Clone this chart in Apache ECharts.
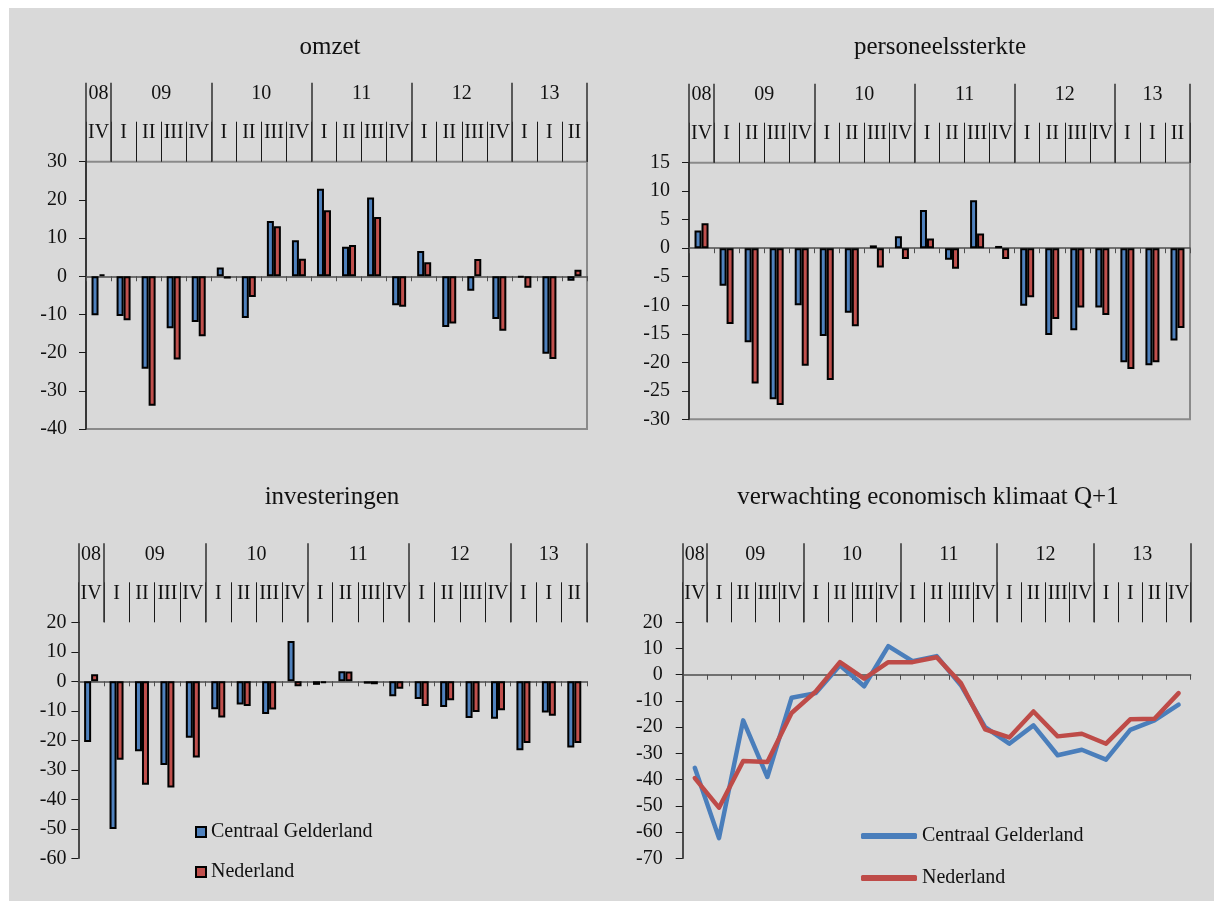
<!DOCTYPE html>
<html>
<head>
<meta charset="utf-8">
<script src="https://cdn.jsdelivr.net/npm/echarts@6/dist/echarts.min.js"></script>
<style>
  html, body { margin: 0; padding: 0; background: #ffffff; }
  #chart { position: absolute; left: 9px; top: 8px; width: 1205px; height: 893px; background: #d9d9d9; }
</style>
</head>
<body>
<div id="chart"></div>
<script>
// ---- data ----
const seriesNames = ['Centraal Gelderland', 'Nederland'];
const titles = ['omzet', 'personeelssterkte', 'investeringen', 'verwachting economisch klimaat Q+1'];

const quartersBars = ['IV','I','II','III','IV','I','II','III','IV','I','II','III','IV','I','II','III','IV','I','I','II'];
const quartersLine = ['IV','I','II','III','IV','I','II','III','IV','I','II','III','IV','I','II','III','IV','I','I','II','IV'];
const years = ['08','09','10','11','12','13'];
const yearSpansBars = [1,4,4,4,4,3];
const yearSpansLine = [1,4,4,4,4,4];

const omzetCG = [-10.2,-10.4,-24.2,-13.6,-12.0,2.3,-10.9,14.5,9.4,22.9,7.7,20.6,-7.6,6.6,-13.3,-3.8,-11.2,-0.3,-20.3,-1.2];
const omzetNL = [0.5,-11.5,-33.9,-21.8,-15.7,-0.6,-5.4,13.1,4.6,17.3,8.2,15.5,-8.0,3.7,-12.4,4.5,-14.3,-3.0,-21.7,1.7];

const persCG = [3.1,-6.6,-16.5,-26.5,-10.0,-15.4,-11.3,0.5,2.1,6.7,-2.0,8.4,0.4,-10.1,-15.2,-14.4,-10.4,-20.0,-20.5,-16.2];
const persNL = [4.4,-13.3,-23.7,-27.5,-20.6,-23.1,-13.7,-3.4,-1.9,1.7,-3.6,2.6,-1.9,-8.6,-12.4,-10.4,-11.7,-21.2,-20.0,-14.0];

const invCG = [-20.6,-50.1,-23.7,-28.4,-19.1,-9.5,-7.9,-11.1,13.7,-1.2,3.4,-0.8,-5.1,-6.0,-8.7,-12.4,-12.7,-23.4,-10.6,-22.4];
const invNL = [2.4,-26.6,-35.1,-36.0,-25.8,-12.3,-8.4,-9.6,-1.7,-0.6,3.3,-1.0,-2.5,-8.4,-6.4,-10.4,-9.8,-20.9,-11.7,-20.9];

const klimCG = [-35.5,-62.3,-17.4,-39.0,-8.8,-7.0,3.6,-4.4,10.9,5.2,7.1,-4.0,-20.0,-26.3,-19.3,-30.7,-28.6,-32.4,-21.0,-17.4,-11.4];
const klimNL = [-39.4,-50.7,-32.9,-33.3,-14.6,-6.4,4.8,-1.5,4.8,4.8,6.7,-3.2,-20.8,-23.9,-14.0,-23.5,-22.5,-26.3,-17.0,-16.8,-7.0];

const yRanges = [[-40,30,10],[-30,15,5],[-60,20,10],[-70,20,10]];

// ---- styles ----
const FONT = 'Liberation Serif';
const FS = 20;
const TFS = 25;
const TXT = '#111111';
const BLUE = '#4f81bd', RED = '#c0504d';
const LBLUE = '#4a7ebb', LRED = '#be4b48';

const grids = [
  { left: 77,    top: 153.7, width: 501,   height: 267.3 },
  { left: 680,   top: 154.7, width: 501,   height: 256.6 },
  { left: 69.4,  top: 614.3, width: 508.6, height: 236 },
  { left: 673.7, top: 614.3, width: 508,   height: 236 }
];
const yLabelMargin = [19, 19, 12, 20];
const bordered = [true, true, false, false];

// build half-step year axis: labels at group centres, ticks at group boundaries
function yearAxis(spans) {
  const total = spans.reduce((a, b) => a + b, 0) * 2;
  const data = new Array(total + 1).fill('');
  const tickIdx = new Set([0]);
  const labelIdx = new Set();
  let pos = 0;
  spans.forEach((s, i) => {
    data[pos + s] = years[i];
    labelIdx.add(pos + s);
    pos += 2 * s;
    tickIdx.add(pos);
  });
  return { data, tickIdx, labelIdx };
}

const xAxes = [], yAxes = [], series = [], titleList = [];
const panels = [
  { q: quartersBars, spans: yearSpansBars, a: omzetCG, b: omzetNL, type: 'bar' },
  { q: quartersBars, spans: yearSpansBars, a: persCG, b: persNL, type: 'bar' },
  { q: quartersBars, spans: yearSpansBars, a: invCG, b: invNL, type: 'bar' },
  { q: quartersLine, spans: yearSpansLine, a: klimCG, b: klimNL, type: 'line' }
];

panels.forEach((p, gi) => {
  const base = xAxes.length;
  // zero-line axis (series attach here)
  xAxes.push({
    gridIndex: gi, type: 'category', data: p.q, position: 'bottom',
    axisLine: { show: true, onZero: true, lineStyle: { color: '#4d4d4d', width: 1.5 } },
    axisTick: { show: true, length: 5, inside: false, lineStyle: { color: '#4d4d4d', width: 1 } },
    axisLabel: { show: false }, splitLine: { show: false }
  });
  // quarter header axis
  xAxes.push({
    gridIndex: gi, type: 'category', data: p.q, position: 'top',
    axisLine: { show: false, onZero: false },
    axisTick: { show: true, length: 40, inside: false, lineStyle: { color: '#1a1a1a', width: 1 } },
    axisLabel: { show: true, interval: 0, margin: 29, verticalAlign: 'middle',
      fontFamily: FONT, fontSize: FS, color: TXT },
    splitLine: { show: false }
  });
  // year header axis
  const ya = yearAxis(p.spans);
  xAxes.push({
    gridIndex: gi, type: 'category', data: ya.data, position: 'top', boundaryGap: false,
    axisLine: { show: false, onZero: false },
    axisTick: { show: true, length: 79, inside: false,
      interval: (i) => ya.tickIdx.has(i), lineStyle: { color: '#3a3a3a', width: 1.6 } },
    axisLabel: { show: true, margin: 68, verticalAlign: 'middle',
      interval: (i) => ya.labelIdx.has(i),
      fontFamily: FONT, fontSize: FS, color: TXT },
    splitLine: { show: false }
  });
  const r = yRanges[gi];
  yAxes.push({
    gridIndex: gi, type: 'value', min: r[0], max: r[1], interval: r[2],
    axisLine: { show: true, lineStyle: { color: '#1a1a1a', width: 1.5 } },
    axisTick: { show: true, length: 7, inside: false, lineStyle: { color: '#1a1a1a', width: 1 } },
    axisLabel: { margin: yLabelMargin[gi], fontFamily: FONT, fontSize: FS, color: TXT },
    splitLine: { show: false }
  });
  if (p.type === 'bar') {
    [p.a, p.b].forEach((d, k) => {
      series.push({
        type: 'bar', name: seriesNames[k], xAxisIndex: base, yAxisIndex: gi, data: d,
        barWidth: 7, barGap: '0%',
        itemStyle: { color: k === 0 ? BLUE : RED, borderColor: '#000000', borderWidth: 2 }
      });
    });
  } else {
    [p.a, p.b].forEach((d, k) => {
      series.push({
        type: 'line', name: seriesNames[k], xAxisIndex: base, yAxisIndex: gi, data: d,
        showSymbol: false, symbol: 'none', smooth: false,
        lineStyle: { color: k === 0 ? LBLUE : LRED, width: 4.5, cap: 'round', join: 'round' },
        itemStyle: { color: k === 0 ? LBLUE : LRED }
      });
    });
  }
});

const titlePos = [[321, 27], [931, 27], [323, 477], [919, 477]];
titles.forEach((t, i) => {
  titleList.push({
    text: t, left: titlePos[i][0], top: titlePos[i][1], textAlign: 'center', padding: 0,
    textStyle: { fontFamily: FONT, fontSize: TFS, fontWeight: 'normal', color: TXT }
  });
});

const option = {
  animation: false,
  backgroundColor: '#d9d9d9',
  title: titleList,
  grid: grids.map((g, i) => Object.assign({
    show: bordered[i], borderColor: '#8a8a8a', borderWidth: 2, backgroundColor: 'transparent'
  }, g)),
  xAxis: xAxes,
  yAxis: yAxes,
  legend: [
    {
      orient: 'vertical', left: 186, top: 814, itemGap: 20, itemWidth: 10, itemHeight: 10,
      icon: 'rect', padding: 0,
      textStyle: { fontFamily: FONT, fontSize: FS, color: TXT, lineHeight: 20 },
      data: seriesNames.map((n) => ({ name: n, icon: 'rect' }))
    },
    {
      orient: 'vertical', left: 852, top: 818, itemGap: 22, itemWidth: 56, itemHeight: 6,
      padding: 0,
      textStyle: { fontFamily: FONT, fontSize: FS, color: TXT, lineHeight: 20 },
      data: [
        { name: seriesNames[0], icon: 'roundRect', itemStyle: { color: LBLUE, borderWidth: 0 } },
        { name: seriesNames[1], icon: 'roundRect', itemStyle: { color: LRED, borderWidth: 0 } }
      ]
    }
  ],
  series: series
};

const chart = echarts.init(document.getElementById('chart'), null, { renderer: 'canvas' });
chart.setOption(option);
</script>
</body>
</html>
